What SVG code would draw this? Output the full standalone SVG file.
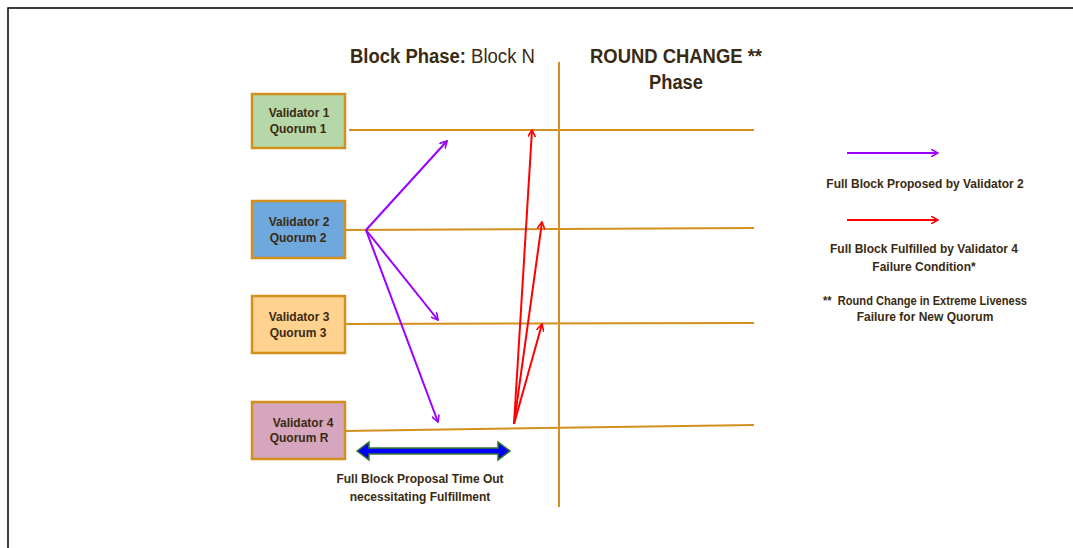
<svg xmlns="http://www.w3.org/2000/svg" width="1073" height="548" viewBox="0 0 1073 548">
<style>
.box{stroke:#d4901f;stroke-width:2.5}
.t{font-family:"Liberation Sans",Arial,sans-serif;font-weight:bold;font-size:12px;fill:#3a2a12;text-anchor:middle}
.h{font-family:"Liberation Sans",Arial,sans-serif;font-weight:bold;font-size:20px;fill:#3a2a12;text-anchor:middle}
.ln{stroke:#d4901f;stroke-width:2;fill:none}
.pu{stroke:#9a00ff;stroke-width:2;fill:none}
.rd{stroke:#ff0000;stroke-width:2;fill:none}
</style>
<defs>
<marker id="ap" viewBox="0 0 10 10" refX="9" refY="5" markerWidth="8" markerHeight="8" markerUnits="userSpaceOnUse" orient="auto"><path d="M0,0 L9,5 L0,10" fill="none" stroke="#9a00ff" stroke-width="2"/></marker>
<marker id="ar" viewBox="0 0 10 10" refX="9" refY="5" markerWidth="8" markerHeight="8" markerUnits="userSpaceOnUse" orient="auto"><path d="M0,0 L9,5 L0,10" fill="none" stroke="#ff0000" stroke-width="2"/></marker>
</defs>
<rect width="1073" height="548" fill="#fff"/>
<path d="M8,548 V8 H1073" fill="none" stroke="#000" stroke-width="1.5"/>
<text class="h" x="350" y="63" text-anchor="start" style="text-anchor:start" textLength="116" lengthAdjust="spacingAndGlyphs">Block Phase:</text>
<text class="h" x="471" y="63" font-weight="normal" style="text-anchor:start;font-weight:normal" textLength="64" lengthAdjust="spacingAndGlyphs">Block N</text>
<text class="h" x="676" y="63" textLength="172" lengthAdjust="spacingAndGlyphs">ROUND CHANGE **</text>
<text class="h" x="676" y="89" textLength="54" lengthAdjust="spacingAndGlyphs">Phase</text>
<g id="v1"><rect class="box" x="252" y="94" width="93" height="54" fill="#b6d7a8"/><text class="t" x="299" y="117">Validator 1</text><text class="t" x="298" y="133">Quorum 1</text></g>
<g id="v2"><rect class="box" x="252" y="201" width="93" height="57" fill="#6fa8dc"/><text class="t" x="299" y="226">Validator 2</text><text class="t" x="298" y="242">Quorum 2</text></g>
<g id="v3"><rect class="box" x="252" y="296" width="93" height="57" fill="#ffd28f"/><text class="t" x="299" y="321">Validator 3</text><text class="t" x="298" y="337">Quorum 3</text></g>
<g id="v4"><rect class="box" x="252" y="402" width="93" height="57" fill="#d5a6bd"/><text class="t" x="303" y="427">Validator 4</text><text class="t" x="299" y="442">Quorum R</text></g>
<g id="connectors">
<line class="ln" x1="349" y1="130" x2="754" y2="130"/>
<line class="ln" x1="345" y1="230" x2="754" y2="228"/>
<line class="ln" x1="345" y1="324" x2="754" y2="323"/>
<line class="ln" x1="345" y1="431" x2="754" y2="425"/>
<line class="ln" x1="559" y1="62" x2="559" y2="507"/>
<line class="pu" x1="366" y1="230" x2="447" y2="141" marker-end="url(#ap)"/>
<line class="pu" x1="366" y1="230" x2="438" y2="320" marker-end="url(#ap)"/>
<line class="pu" x1="366" y1="230" x2="438" y2="422" marker-end="url(#ap)"/>
<line class="rd" x1="514" y1="424" x2="532" y2="130" marker-end="url(#ar)"/>
<line class="rd" x1="514" y1="424" x2="542" y2="222" marker-end="url(#ar)"/>
<line class="rd" x1="514" y1="424" x2="542" y2="324" marker-end="url(#ar)"/>
<path d="M357,451 L369,442 L369,448 L498,448 L498,442 L510,451 L498,460 L498,454 L369,454 L369,460 Z" fill="#0000ff" stroke="#3a7a2a" stroke-width="1.5"/>
<line class="pu" x1="847" y1="153" x2="938" y2="153" marker-end="url(#ap)"/>
<line class="rd" x1="847" y1="220" x2="938" y2="220" marker-end="url(#ar)"/>
</g>
<text class="t" x="925" y="188">Full Block Proposed by Validator 2</text>
<text class="t" x="924" y="253">Full Block Fulfilled by Validator 4</text>
<text class="t" x="924" y="271">Failure Condition*</text>
<text class="t" x="925" y="305" font-size="11.5" xml:space="preserve" textLength="204" lengthAdjust="spacingAndGlyphs">**  Round Change in Extreme Liveness</text>
<text class="t" x="925" y="321" font-size="11.5">Failure for New Quorum</text>
<text class="t" x="420" y="483">Full Block Proposal Time Out</text>
<text class="t" x="420" y="501">necessitating Fulfillment</text>
</svg>
